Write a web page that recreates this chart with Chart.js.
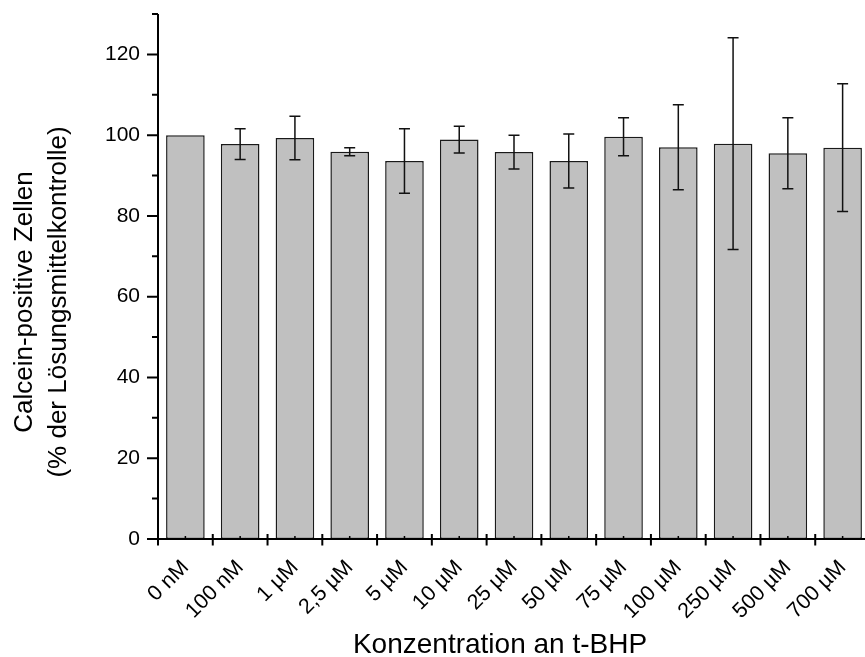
<!DOCTYPE html>
<html>
<head>
<meta charset="utf-8">
<script src="https://cdn.jsdelivr.net/npm/chart.js@4"></script>
<style>
  html, body { margin: 0; padding: 0; background: #fff; overflow: hidden; }
  canvas { display: block; }
</style>
</head>
<body>
<canvas id="chart" width="870" height="657"></canvas>
<script>
// Calcein-positive cells per t-BHP concentration (mean and SD, % of solvent control)
const categories = ['0 nM', '100 nM', '1 µM', '2,5 µM', '5 µM', '10 µM', '25 µM', '50 µM', '75 µM', '100 µM', '250 µM', '500 µM', '700 µM'];
const means = [100, 97.8, 99.3, 95.9, 93.6, 98.9, 95.8, 93.6, 99.6, 97.0, 97.9, 95.5, 96.9];
const errors = [0, 3.8, 5.4, 1.0, 8.0, 3.3, 4.2, 6.7, 4.7, 10.5, 26.2, 8.8, 15.8];
const majorTicks = [0, 20, 40, 60, 80, 100, 120];
const minorTicks = [10, 30, 50, 70, 90, 110, 130];

const FONT = "'Liberation Sans', Arial, sans-serif";

// Error bars with caps
const errorBars = {
  id: 'errorBars',
  afterDatasetsDraw(chart) {
    const ctx = chart.ctx;
    const y = chart.scales.y;
    const meta = chart.getDatasetMeta(0);
    ctx.save();
    ctx.strokeStyle = '#111';
    ctx.lineWidth = 1.5;
    meta.data.forEach((bar, i) => {
      if (!errors[i]) return;
      const top = y.getPixelForValue(means[i] + errors[i]);
      const bot = y.getPixelForValue(means[i] - errors[i]);
      ctx.beginPath();
      ctx.moveTo(bar.x, top);
      ctx.lineTo(bar.x, bot);
      ctx.moveTo(bar.x - 5.5, top);
      ctx.lineTo(bar.x + 5.5, top);
      ctx.moveTo(bar.x - 5.5, bot);
      ctx.lineTo(bar.x + 5.5, bot);
      ctx.stroke();
    });
    ctx.restore();
  }
};

// Axis lines and tick marks, drawn over the bars
const axes = {
  id: 'axes',
  afterDatasetsDraw(chart) {
    const ctx = chart.ctx;
    const x = chart.scales.x;
    const y = chart.scales.y;
    const area = chart.chartArea;
    const base = y.getPixelForValue(0);
    const step = (area.right - area.left) / categories.length;
    ctx.save();
    ctx.strokeStyle = '#000';
    ctx.lineWidth = 2;
    ctx.beginPath();
    ctx.moveTo(area.left, y.getPixelForValue(130));
    ctx.lineTo(area.left, base);
    ctx.moveTo(area.left - 11, base);
    ctx.lineTo(chart.width, base);
    majorTicks.forEach(v => {
      const p = y.getPixelForValue(v);
      ctx.moveTo(area.left - 11, p);
      ctx.lineTo(area.left, p);
    });
    minorTicks.forEach(v => {
      const p = y.getPixelForValue(v);
      ctx.moveTo(area.left - 6, p);
      ctx.lineTo(area.left, p);
    });
    for (let i = 0; i <= categories.length; i++) {
      const p = area.left + i * step;
      ctx.moveTo(p, base - 5);
      ctx.lineTo(p, base + 6.5);
    }
    ctx.stroke();
    ctx.lineWidth = 1.5;
    ctx.beginPath();
    categories.forEach((c, i) => {
      const p = x.getPixelForValue(i);
      ctx.moveTo(p, base);
      ctx.lineTo(p, base - 3);
    });
    ctx.stroke();
    ctx.restore();
  }
};

// Axis titles
const titles = {
  id: 'titles',
  afterDraw(chart) {
    const ctx = chart.ctx;
    ctx.save();
    ctx.fillStyle = '#000';
    ctx.textAlign = 'center';
    ctx.textBaseline = 'alphabetic';
    ctx.font = '28px ' + FONT;
    ctx.fillText('Konzentration an t-BHP', 500, 653);
    ctx.translate(0, 302);
    ctx.rotate(-Math.PI / 2);
    ctx.font = '26px ' + FONT;
    ctx.fillText('Calcein-positive Zellen', 0, 32);
    ctx.fillText('(% der Lösungsmittelkontrolle)', 0, 66);
    ctx.restore();
  }
};

const ctx = document.getElementById('chart').getContext('2d');
const chart = new Chart(ctx, {
  type: 'bar',
  data: {
    labels: categories,
    datasets: [{
      data: means,
      backgroundColor: '#c0c0c0',
      borderColor: '#1a1a1a',
      borderWidth: 1.5,
      borderSkipped: false,
      barPercentage: 0.705,
      categoryPercentage: 1.0
    }]
  },
  options: {
    responsive: false,
    animation: false,
    layout: { padding: { top: 14, left: 0, right: 0, bottom: 0 } },
    plugins: {
      legend: { display: false },
      tooltip: { enabled: false }
    },
    scales: {
      x: {
        grid: { display: false, drawTicks: false },
        border: { display: false },
        ticks: {
          color: '#000',
          font: { family: FONT, size: 21.5 },
          minRotation: 45,
          maxRotation: 45,
          autoSkip: false,
          padding: 16
        },
        afterFit(scale) {
          scale.height = 118;
          scale.paddingLeft = 0;
          scale.paddingRight = 0;
        }
      },
      y: {
        min: 0,
        max: 130,
        grid: { display: false, drawTicks: false },
        border: { display: false },
        ticks: {
          stepSize: 20,
          includeBounds: false,
          color: '#000',
          font: { family: FONT, size: 21 },
          padding: 18
        },
        afterFit(scale) {
          scale.width = 158;
          scale.paddingTop = 0;
          scale.paddingBottom = 0;
        }
      }
    }
  },
  plugins: [errorBars, axes, titles]
});
</script>
</body>
</html>
